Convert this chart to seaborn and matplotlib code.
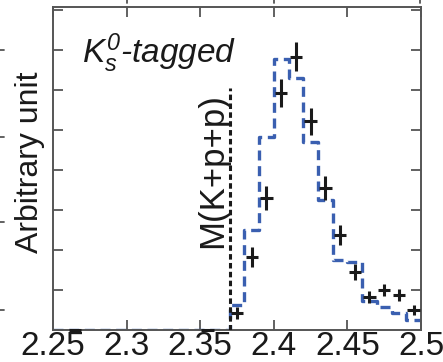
import numpy as np
import pandas as pd
import matplotlib
matplotlib.use("Agg")
import matplotlib.pyplot as plt
import seaborn as sns
from matplotlib.lines import Line2D

# ---- data ----
bin_edges = [2.25, 2.26, 2.27, 2.28, 2.29, 2.30, 2.31, 2.32, 2.33, 2.34, 2.35, 2.36,
             2.37, 2.38, 2.39, 2.40, 2.41, 2.42, 2.43, 2.44, 2.45, 2.46, 2.47, 2.48, 2.49, 2.50]
mc_heights = [0, 0, 0, 0, 0, 0, 0, 0, 0, 0, 0, 0,
              0.62, 2.5, 4.83, 6.77, 6.3, 4.7, 3.25, 1.75, 1.7, 0.72, 0.58, 0.42, 0.25]
data_x = [2.265, 2.355, 2.375, 2.385, 2.395, 2.405, 2.415, 2.425, 2.435, 2.445, 2.455,
          2.465, 2.475, 2.485, 2.495]
data_y = [0, 0, 0.42, 1.83, 3.29, 5.92, 6.83, 5.21, 3.54, 2.37, 1.46, 0.83, 1.0, 0.87, 0.5]
data_err = [0, 0, 0.15, 0.25, 0.3, 0.35, 0.37, 0.33, 0.3, 0.25, 0.2, 0.15, 0.16, 0.15, 0.12]
threshold = 2.370
x_ticks = [2.25, 2.3, 2.35, 2.4, 2.45, 2.5]
x_ticklabels = ["2.25", "2.3", "2.35", "2.4", "2.45", "2.5"]
y_ticks = [0, 1, 2, 3, 4, 5, 6, 7, 8]

sns.set_style("ticks")
plt.rcParams["font.family"] = ["Liberation Sans", "DejaVu Sans"]
plt.rcParams["mathtext.fontset"] = "custom"
plt.rcParams["mathtext.rm"] = "Liberation Sans:italic"
plt.rcParams["mathtext.it"] = "Liberation Sans:italic"

fig = plt.figure(figsize=(4.43, 3.62), dpi=100)
ax = fig.add_axes([53/443, 1-330/362, 368/443, 323/362])

centers = [(a + b) / 2 for a, b in zip(bin_edges[:-1], bin_edges[1:])]
hist_df = pd.DataFrame({"x": centers, "w": mc_heights})
sns.histplot(data=hist_df, x="x", weights="w", bins=bin_edges, element="step",
             fill=False, color="#3a5fb0", linestyle=(0, (3.0, 1.7)), linewidth=2.4, ax=ax)

ax.errorbar(data_x, data_y, yerr=data_err, xerr=0.0042, fmt="none",
            ecolor="#1a1a1a", elinewidth=2.2, capsize=0, zorder=4, clip_on=False)

ax.plot([threshold, threshold], [0, 6.05], color="#1a1a1a", linestyle=(0, (1.8, 1.1)),
        linewidth=2.2, zorder=3)

ax.text(2.3587, 2.05, "M(K+p+p)", rotation=90, ha="center", va="bottom",
        fontsize=25, color="#1a1a1a")
ax.text(0.079, 0.827, r"$K_{s}^{0}$-tagged", transform=ax.transAxes,
        fontsize=24, style="italic", ha="left", va="baseline", color="#1a1a1a")

ax.set_xlim(2.25, 2.5)
ax.set_ylim(0, 8.07)
ax.set_xticks(x_ticks)
ax.set_xticklabels(x_ticklabels)
ax.set_yticks(y_ticks)
ax.set_yticklabels([])
ax.tick_params(axis="both", direction="in", length=7, width=1.3, color="#555555",
               top=True, right=True)
ax.tick_params(axis="x", labelsize=24, pad=1, labelcolor="#1a1a1a")
for s in ax.spines.values():
    s.set_color("#555555")
    s.set_linewidth(1.4)
ax.set_xlabel("")
ax.set_ylabel("Arbitrary unit", fontsize=23, color="#1a1a1a")
ax.yaxis.set_label_coords(-0.022, 0.52)

# stubs of neighbouring panels at the crop edges
for yy in [50, 137, 222, 310]:
    fig.add_artist(Line2D([0, 4/443], [1-yy/362, 1-yy/362], color="#555555", lw=1.3))
for xx in [127, 274, 420]:
    fig.add_artist(Line2D([xx/443, xx/443], [1, 1-3/362], color="#555555", lw=1.3))

fig.savefig("out.png", dpi=100)
